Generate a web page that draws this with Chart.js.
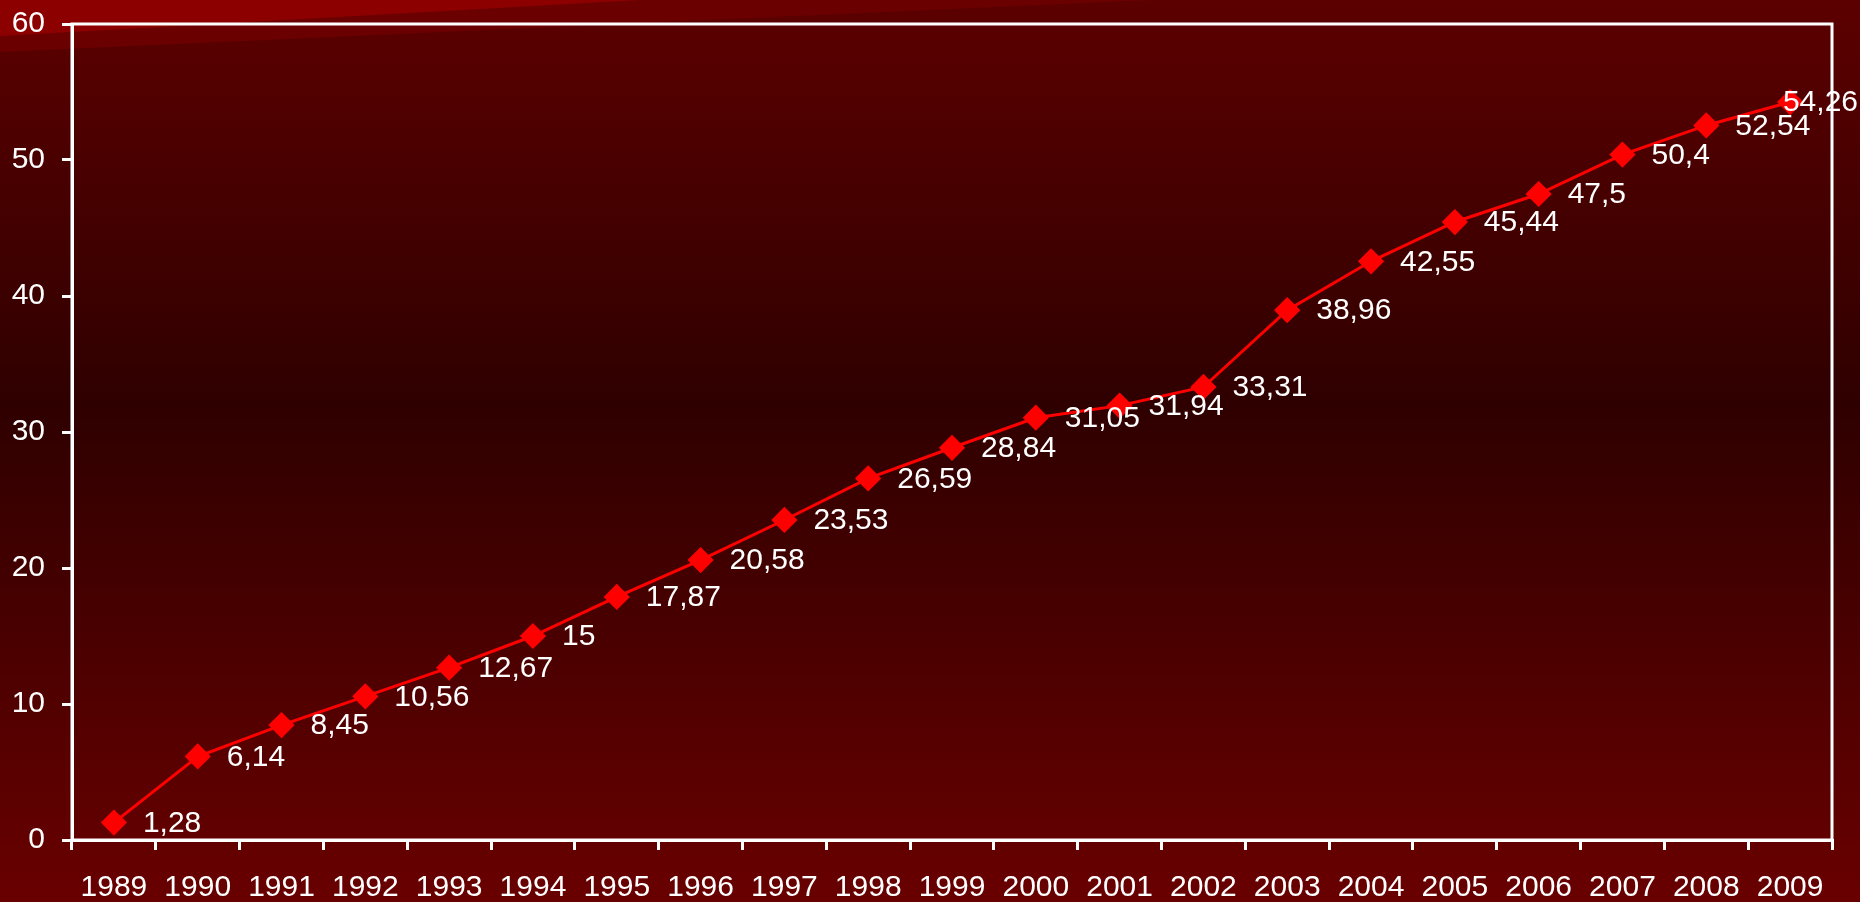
<!DOCTYPE html>
<html>
<head>
<meta charset="utf-8">
<script src="https://cdn.jsdelivr.net/npm/chart.js@4"></script>
<style>
	html, body { margin: 0; padding: 0; background: #4a0000; }
	#wrap { width: 1860px; height: 902px; }
</style>
</head>
<body>
<div id="wrap"><canvas id="chart" width="1860" height="902"></canvas></div>
<script>
const years = ['1989', '1990', '1991', '1992', '1993', '1994', '1995', '1996', '1997', '1998', '1999',
	'2000', '2001', '2002', '2003', '2004', '2005', '2006', '2007', '2008', '2009']
const values = [1.28, 6.14, 8.45, 10.56, 12.67, 15, 17.87, 20.58, 23.53, 26.59, 28.84,
	31.05, 31.94, 33.31, 38.96, 42.55, 45.44, 47.5, 50.4, 52.54, 54.26]
const y_ticks = [0, 10, 20, 30, 40, 50, 60]

const font_family = '"Liberation Sans", Arial, sans-serif'

// background gradient + the lighter wedge in the top left corner
const background = {
	id: 'background',
	beforeDraw(chart) {
		const ctx = chart.ctx
		const w = chart.width, h = chart.height
		ctx.save()
		let grad = ctx.createLinearGradient(0, 0, 0, h)
		grad.addColorStop(0, '#5c0000')
		grad.addColorStop(0.45, '#2f0000')
		grad.addColorStop(1, '#690000')
		ctx.fillStyle = grad
		ctx.fillRect(0, 0, w, h)

		ctx.fillStyle = '#6a0000'
		ctx.beginPath()
		ctx.moveTo(0, 0)
		ctx.lineTo(1150, 0)
		ctx.lineTo(0, 52)
		ctx.closePath()
		ctx.fill()

		ctx.fillStyle = '#8d0000'
		ctx.beginPath()
		ctx.moveTo(0, 0)
		ctx.lineTo(640, 0)
		ctx.lineTo(0, 36)
		ctx.closePath()
		ctx.fill()
		ctx.restore()
	}
}

// white box round the plot
const frame = {
	id: 'frame',
	afterDatasetsDraw(chart) {
		const a = chart.chartArea
		const ctx = chart.ctx
		ctx.save()
		ctx.strokeStyle = '#ffffff'
		ctx.lineWidth = 3
		ctx.strokeRect(a.left, a.top, a.right - a.left, a.bottom - a.top)
		ctx.restore()
	}
}

// value labels right of each point, comma as decimal mark
const value_labels = {
	id: 'value_labels',
	afterDatasetsDraw(chart) {
		const ctx = chart.ctx
		const meta = chart.getDatasetMeta(0)
		ctx.save()
		ctx.font = '30px ' + font_family
		ctx.fillStyle = '#ffffff'
		ctx.textBaseline = 'middle'
		ctx.textAlign = 'left'
		meta.data.forEach((pt, i) => {
			const txt = String(values[i]).replace('.', ',')
			let x = pt.x + 29
			const tw = ctx.measureText(txt).width
			if (x + tw > chart.width - 2) x = chart.width - 2 - tw
			ctx.fillText(txt, x, pt.y + 1)
		})
		ctx.restore()
	}
}

Chart.defaults.font.family = font_family
Chart.defaults.font.size = 30
Chart.defaults.color = '#ffffff'

const chart = new Chart(document.getElementById('chart'), {
	type: 'line',
	data: {
		labels: years,
		datasets: [{
			data: values,
			borderColor: '#ff0000',
			backgroundColor: '#ff0000',
			borderWidth: 3,
			pointStyle: 'rectRot',
			pointRadius: 11,
			pointHoverRadius: 11,
			tension: 0
		}]
	},
	options: {
		responsive: false,
		animation: false,
		events: [],
		layout: { padding: { left: 0, top: 24, right: 28, bottom: 0 } },
		plugins: {
			legend: { display: false },
			tooltip: { enabled: false }
		},
		scales: {
			x: {
				offset: true,
				grid: {
					offset: true,
					drawOnChartArea: false,
					color: '#ffffff',
					lineWidth: 3,
					tickLength: 10
				},
				border: { color: '#ffffff', width: 3 },
				ticks: { color: '#ffffff', padding: 20, maxRotation: 0, autoSkip: false },
				afterFit(scale) {
					scale.height = 62
					scale.paddingLeft = 0
					scale.paddingRight = 0
				}
			},
			y: {
				min: 0,
				max: 60,
				afterBuildTicks(scale) { scale.ticks = y_ticks.map(v => ({ value: v })) },
				grid: {
					drawOnChartArea: false,
					color: '#ffffff',
					lineWidth: 3,
					tickLength: 10
				},
				border: { color: '#ffffff', width: 3 },
				ticks: { color: '#ffffff', padding: 17 },
				afterFit(scale) {
					scale.width = 72
					scale.paddingTop = 0
					scale.paddingBottom = 0
				}
			}
		}
	},
	plugins: [background, frame, value_labels]
})
</script>
</body>
</html>
